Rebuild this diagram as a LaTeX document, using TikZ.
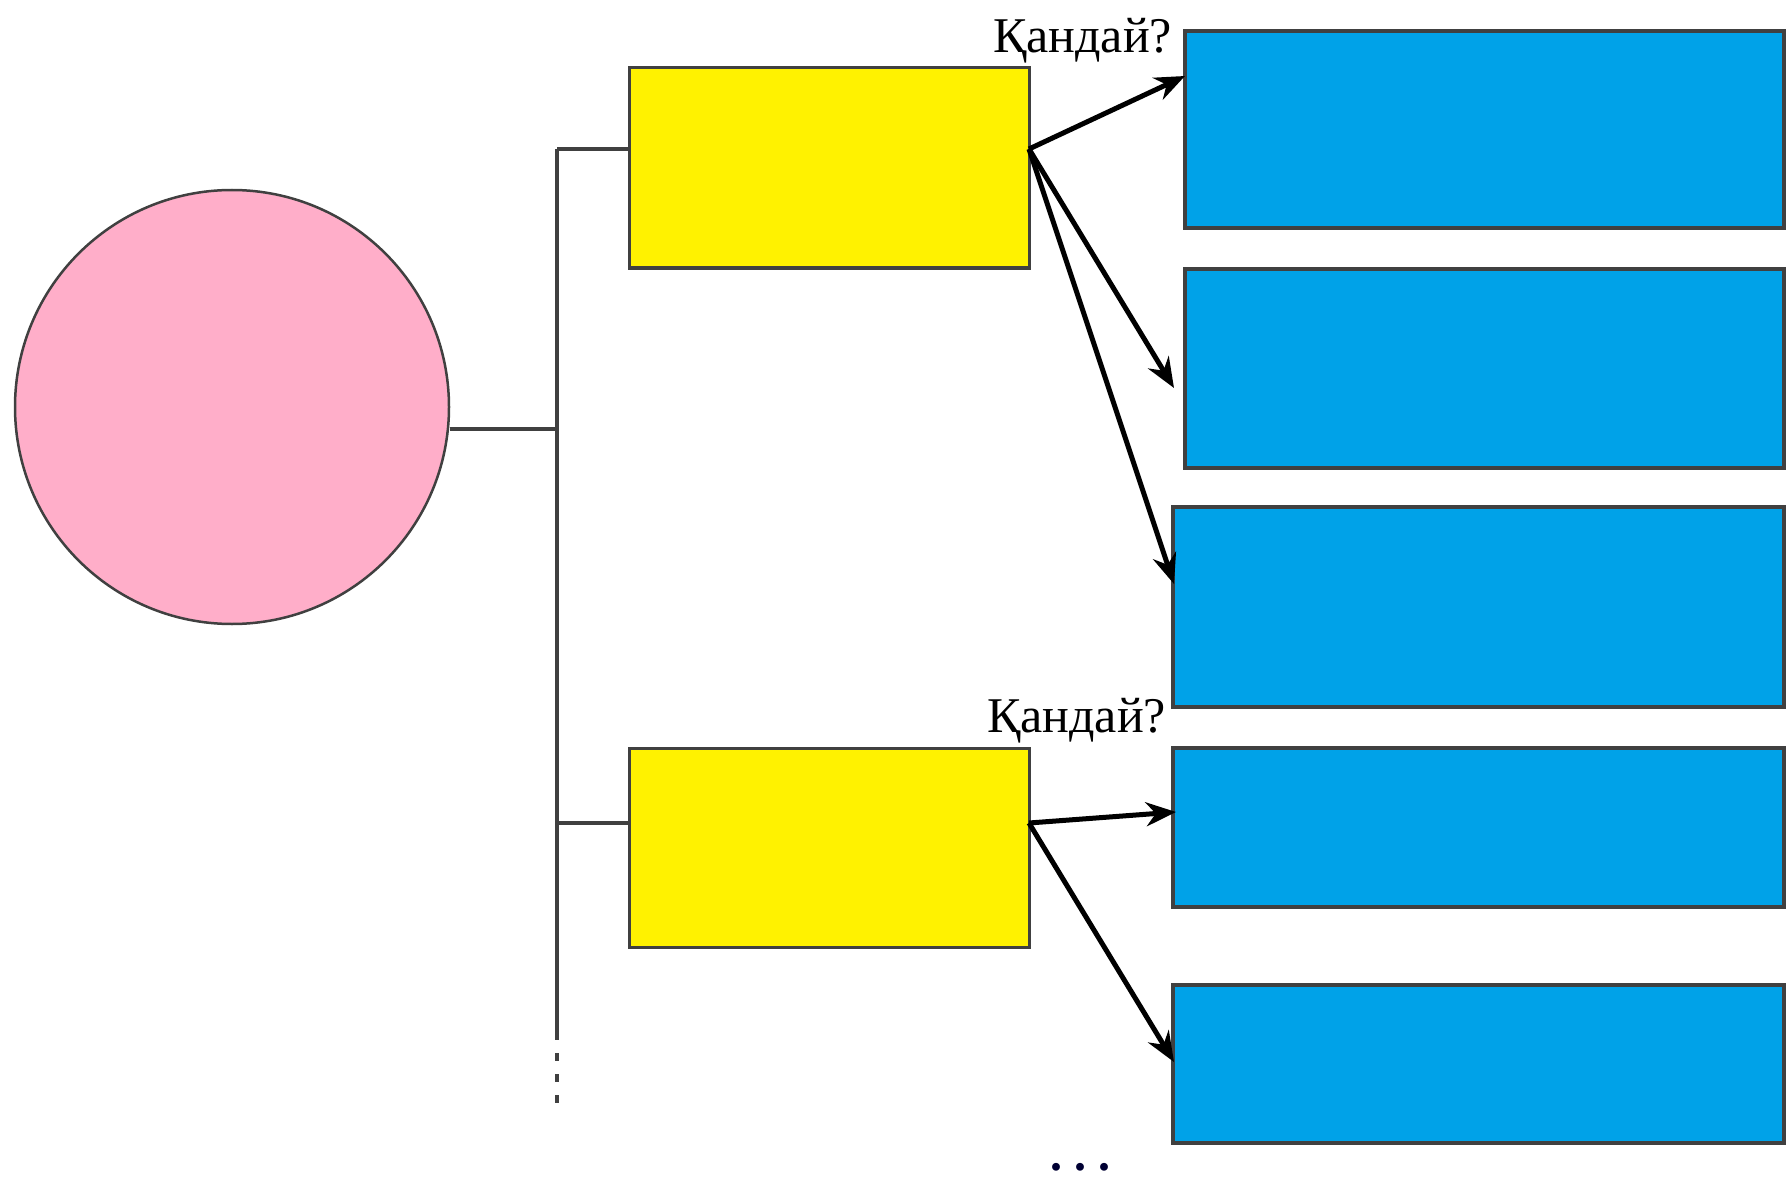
\documentclass[tikz,border=0pt]{standalone}
\usepackage{fontspec}
\setmainfont{Liberation Serif}
\usetikzlibrary{arrows.meta}
\definecolor{pinkc}{HTML}{FFAEC9}
\definecolor{yellowc}{HTML}{FFF200}
\definecolor{bluec}{HTML}{00A2E8}
\definecolor{edgec}{HTML}{404040}
\tikzset{
  ybox/.style={draw=edgec, line width=3pt, fill=yellowc, inner sep=0pt, rectangle},
  bbox/.style={draw=edgec, line width=3.5pt, fill=bluec, inner sep=0pt, rectangle},
  link/.style={draw=edgec, line width=3.5pt},
  arr/.style={draw=black, line width=5pt, -{Stealth[length=30pt,width=24pt]}},
  qlabel/.style={font=\fontsize{50}{60}\selectfont, inner sep=0pt, anchor=base west, text=black},
}
\begin{document}
\begin{tikzpicture}[x=1pt,y=-1pt]
\useasboundingbox[fill=white] (0,0) rectangle (1787,1182);
% main circle
\node[circle, draw=edgec, line width=2.5pt, fill=pinkc, minimum size=434pt, inner sep=0pt] (circ) at (232,407) {};
% yellow boxes
\node[ybox, minimum width=400pt, minimum height=200pt] (y1) at (829,168) {};
\node[ybox, minimum width=400pt, minimum height=199pt] (y2) at (829,847.5) {};
% blue boxes
\node[bbox, minimum width=599pt, minimum height=197pt] (b1) at (1484.5,129.5) {};
\node[bbox, minimum width=599pt, minimum height=199pt] (b2) at (1484.5,368.5) {};
\node[bbox, minimum width=611pt, minimum height=200pt] (b3) at (1478.5,607) {};
\node[bbox, minimum width=611pt, minimum height=159pt] (b4) at (1478.5,827.5) {};
\node[bbox, minimum width=611pt, minimum height=158pt] (b5) at (1478.5,1064) {};
% trunk coordinates
\coordinate (tt) at (557,149);
\coordinate (tc) at (557,429);
\coordinate (t2) at (557,823);
\coordinate (tb) at (557,1040);
\coordinate (d1) at (557,1053);
\coordinate (d2) at (557,1104);
% tree lines
\draw[link] (tt) -- (tb);
\draw[link, dash pattern=on 8pt off 13pt] (d1) -- (d2);
\draw[link] (circ.east |- tc) -- (tc);
\draw[link] (tt) -- (y1.west |- tt);
\draw[link] (t2) -- (y2.west |- t2);
% arrow origins and targets
\coordinate (o1) at (1029,149);
\coordinate (o2) at (1029,823);
\coordinate (e1) at (1185,76);
\coordinate (e2) at (1174,388);
\coordinate (e3) at (1174,584);
\coordinate (e4) at (1176,812);
\coordinate (e5) at (1174,1062);
\draw[arr] (o1) -- (e1);
\draw[arr] (o1) -- (e2);
\draw[arr] (o1) -- (e3);
\draw[arr] (o2) -- (e4);
\draw[arr] (o2) -- (e5);
% labels
\node[qlabel] (q1) at (993,53) {Қандай?};
\node[qlabel] (q2) at (987,732) {Қандай?};
\node[font=\fontsize{48}{56}\selectfont\bfseries, inner sep=0pt, anchor=base, text=black!80!blue] (dots) at (1080,1170) {.\hspace{12pt}.\hspace{12pt}.};
\end{tikzpicture}
\end{document}
